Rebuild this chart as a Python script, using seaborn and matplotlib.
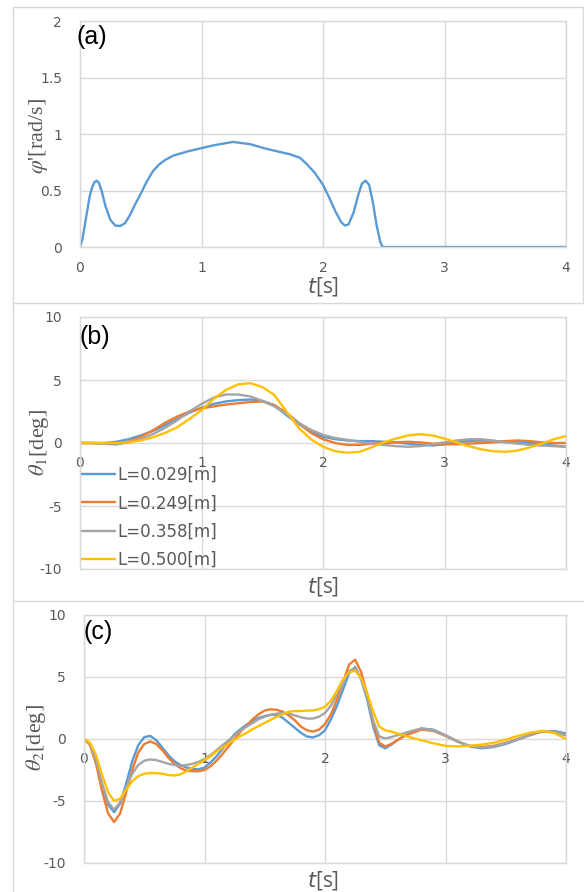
import numpy as np
import pandas as pd
import seaborn as sns
import matplotlib.pyplot as plt
from matplotlib.lines import Line2D

sns.set_theme(style='whitegrid')
plt.rcParams['font.family'] = ['DejaVu Sans']
plt.rcParams['axes.unicode_minus'] = False

# (a) phi' [rad/s]
t_a = [0, 0.02, 0.05, 0.08, 0.1, 0.12, 0.137, 0.155, 0.18, 0.21, 0.25, 0.29, 0.33,
       0.37, 0.41, 0.45, 0.49, 0.55, 0.6, 0.65, 0.7, 0.77, 0.9, 1.0, 1.1, 1.26,
       1.4, 1.53, 1.65, 1.73, 1.81, 1.86, 1.93, 2.0, 2.05, 2.1, 2.15, 2.18, 2.21,
       2.25, 2.29, 2.32, 2.35, 2.38, 2.41, 2.44, 2.47, 2.49, 3.0, 4.0]
phi_a = [0, 0.07, 0.26, 0.45, 0.53, 0.575, 0.587, 0.57, 0.49, 0.36, 0.24, 0.19, 0.186,
         0.21, 0.28, 0.37, 0.45, 0.58, 0.67, 0.73, 0.77, 0.81, 0.85, 0.875, 0.9, 0.93,
         0.91, 0.87, 0.84, 0.82, 0.79, 0.74, 0.66, 0.55, 0.44, 0.32, 0.22, 0.19, 0.2,
         0.3, 0.46, 0.56, 0.587, 0.55, 0.4, 0.2, 0.05, 0, 0, 0]

labels = ['L=0.029[m]', 'L=0.249[m]', 'L=0.358[m]', 'L=0.500[m]']
colors = ['#5B9BD5', '#ED7D31', '#A5A5A5', '#FFC000']

# (b) theta1 [deg]
t_b = [0.0, 0.1, 0.2, 0.3, 0.4, 0.5, 0.6, 0.7, 0.8, 0.9, 1.0, 1.1, 1.2, 1.3, 1.4,
       1.5, 1.6, 1.7, 1.8, 1.9, 2.0, 2.1, 2.2, 2.3, 2.4, 2.5, 2.6, 2.7, 2.8, 2.9,
       3.0, 3.1, 3.2, 3.3, 3.4, 3.5, 3.6, 3.7, 3.8, 3.9, 4.0]
th1_l029 = [0, 0, 0, 0.1, 0.3, 0.6, 0.95, 1.4, 1.9, 2.4, 2.8, 3.1, 3.3, 3.4, 3.45,
            3.35, 3.0, 2.2, 1.5, 0.9, 0.5, 0.3, 0.2, 0.15, 0.15, 0.1, 0.05, -0.05,
            -0.15, -0.2, -0.1, 0.05, 0.15, 0.2, 0.15, 0.1, 0.05, 0, -0.1, -0.2, -0.3]
th1_l249 = [0, 0, -0.05, -0.1, 0.1, 0.5, 1.0, 1.6, 2.1, 2.5, 2.75, 2.9, 3.05, 3.15,
            3.25, 3.3, 3.0, 2.4, 1.6, 0.8, 0.3, 0.0, -0.15, -0.15, -0.05, 0.0, 0.05,
            0.1, 0.05, -0.05, -0.1, -0.1, -0.05, 0.0, 0.05, 0.15, 0.2, 0.15, 0.05,
            0.0, 0.0]
th1_l358 = [0, 0, -0.05, -0.1, 0.05, 0.35, 0.7, 1.2, 1.8, 2.5, 3.1, 3.6, 3.85, 3.85,
            3.7, 3.35, 2.9, 2.3, 1.6, 1.05, 0.65, 0.4, 0.25, 0.1, -0.05, -0.15,
            -0.25, -0.3, -0.25, -0.1, 0.05, 0.2, 0.3, 0.3, 0.2, 0.05, -0.05, -0.15,
            -0.2, -0.25, -0.3]
th1_l500 = [0, 0, 0, 0, 0.05, 0.2, 0.45, 0.8, 1.25, 1.9, 2.6, 3.5, 4.2, 4.65, 4.75,
            4.45, 3.8, 2.5, 1.2, 0.3, -0.3, -0.65, -0.77, -0.7, -0.35, 0.05, 0.35,
            0.6, 0.7, 0.6, 0.35, 0.05, -0.25, -0.5, -0.65, -0.7, -0.6, -0.35, -0.05,
            0.3, 0.55]

# (c) theta2 [deg]
t_c = [0.0, 0.05, 0.1, 0.15, 0.2, 0.25, 0.3, 0.35, 0.4, 0.45, 0.5, 0.55, 0.6, 0.65,
       0.7, 0.75, 0.8, 0.85, 0.9, 0.95, 1.0, 1.05, 1.1, 1.15, 1.2, 1.25, 1.3, 1.35,
       1.4, 1.45, 1.5, 1.55, 1.6, 1.65, 1.7, 1.75, 1.8, 1.85, 1.9, 1.95, 2.0, 2.05,
       2.1, 2.15, 2.2, 2.25, 2.3, 2.35, 2.4, 2.45, 2.5, 2.55, 2.6, 2.65, 2.7, 2.8,
       2.9, 3.0, 3.1, 3.2, 3.3, 3.4, 3.5, 3.6, 3.7, 3.8, 3.9, 4.0]
th2_l029 = [0, -0.4, -1.8, -3.8, -5.3, -5.9, -5.2, -3.6, -1.8, -0.5, 0.15, 0.25, -0.1,
            -0.7, -1.3, -1.8, -2.1, -2.3, -2.4, -2.45, -2.3, -1.9, -1.4, -0.8, -0.2,
            0.4, 0.8, 1.15, 1.45, 1.7, 1.85, 1.95, 1.95, 1.7, 1.3, 0.9, 0.5, 0.2,
            0.13, 0.3, 0.7, 1.6, 2.7, 4.0, 5.3, 5.8, 4.8, 3.2, 1.0, -0.5, -0.75,
            -0.45, -0.1, 0.2, 0.45, 0.85, 0.75, 0.3, -0.2, -0.6, -0.75, -0.65, -0.4,
            -0.05, 0.3, 0.6, 0.65, 0.45]
th2_l249 = [0, -0.5, -2.0, -4.2, -6.0, -6.7, -6.0, -4.3, -2.5, -1.1, -0.4, -0.2, -0.4,
            -0.9, -1.5, -2.0, -2.35, -2.55, -2.6, -2.6, -2.5, -2.2, -1.75, -1.2, -0.6,
            0.0, 0.6, 1.1, 1.6, 2.0, 2.3, 2.4, 2.35, 2.2, 1.9, 1.5, 1.0, 0.7, 0.6,
            0.75, 1.2, 2.0, 3.2, 4.6, 6.0, 6.4, 5.4, 3.6, 1.3, -0.3, -0.6, -0.4,
            -0.1, 0.2, 0.4, 0.75, 0.65, 0.25, -0.2, -0.55, -0.65, -0.55, -0.3, 0.0,
            0.35, 0.6, 0.55, 0.3]
th2_l358 = [0, -0.4, -1.7, -3.6, -5.1, -5.7, -5.1, -3.9, -2.8, -2.1, -1.75, -1.65, -1.7,
            -1.85, -2.0, -2.1, -2.15, -2.1, -2.0, -1.85, -1.6, -1.3, -0.9, -0.5, -0.1,
            0.3, 0.7, 1.0, 1.3, 1.6, 1.8, 1.95, 2.05, 2.1, 2.05, 1.9, 1.75, 1.65,
            1.65, 1.8, 2.1, 2.7, 3.6, 4.6, 5.5, 5.7, 4.9, 3.4, 1.5, 0.2, 0.05, 0.15,
            0.3, 0.45, 0.6, 0.85, 0.7, 0.3, -0.2, -0.55, -0.7, -0.6, -0.35, 0.0, 0.35,
            0.65, 0.6, 0.3]
th2_l500 = [0, -0.3, -1.3, -2.9, -4.3, -5.0, -4.8, -4.1, -3.4, -3.0, -2.8, -2.75, -2.75,
            -2.8, -2.9, -2.95, -2.85, -2.6, -2.3, -2.0, -1.7, -1.4, -1.0, -0.7, -0.35,
            -0.05, 0.25, 0.5, 0.8, 1.05, 1.3, 1.55, 1.8, 2.0, 2.2, 2.25, 2.25, 2.3,
            2.3, 2.4, 2.6, 3.1, 3.9, 4.8, 5.4, 5.5, 4.9, 3.7, 2.2, 1.0, 0.7, 0.6,
            0.45, 0.3, 0.15, -0.1, -0.35, -0.55, -0.6, -0.55, -0.45, -0.3, -0.05,
            0.25, 0.5, 0.65, 0.5, 0.0]


def long_form(t, series):
    frames = []
    for lab, vals in zip(labels, series):
        frames.append(pd.DataFrame({'t': t, 'v': vals, 'L': lab}))
    return pd.concat(frames, ignore_index=True)


df_b = long_form(t_b, [th1_l029, th1_l249, th1_l358, th1_l500])
df_c = long_form(t_c, [th2_l029, th2_l249, th2_l358, th2_l500])

W, H = 584, 892
fig = plt.figure(figsize=(W / 100, H / 100), dpi=100)
fig.patch.set_facecolor('white')


def px_axes(x0, x1, y0, y1):
    return fig.add_axes([x0 / W, 1 - y1 / H, (x1 - x0) / W, (y1 - y0) / H])


grid_c = '#D9D9D9'
text_c = '#595959'


def style(ax, ylim, yticks):
    ax.set_xlim(0, 4)
    ax.set_ylim(*ylim)
    ax.set_xticks([0, 1, 2, 3, 4])
    ax.set_yticks(yticks)
    ax.grid(True, color=grid_c, linewidth=1.0)
    for s in ax.spines.values():
        s.set_color(grid_c)
        s.set_linewidth(1.0)
    ax.tick_params(length=0, colors=text_c, labelsize=10, pad=13)
    ax.set_xlabel('')
    ax.set_ylabel('')


ax_a = px_axes(80, 566, 21, 247)
sns.lineplot(x=t_a, y=phi_a, ax=ax_a, color=colors[0], linewidth=1.7)
style(ax_a, (0, 2), [0, 0.5, 1, 1.5, 2])
ax_a.set_yticklabels(['0', '0.5', '1', '1.5', '2'])
ax_a.tick_params(axis='x', pad=10)

ax_b = px_axes(80, 566, 317, 569)
sns.lineplot(data=df_b, x='t', y='v', hue='L', palette=colors, ax=ax_b,
             linewidth=1.7, estimator=None, sort=False)
style(ax_b, (-10, 10), [-10, -5, 0, 5, 10])

ax_c = px_axes(84, 566, 615, 863)
sns.lineplot(data=df_c, x='t', y='v', hue='L', palette=colors, ax=ax_c,
             linewidth=1.7, estimator=None, sort=False, legend=False)
style(ax_c, (-10, 10), [-10, -5, 0, 5, 10])

# x tick labels sit just under the zero line in (b) and (c)
ax_b.tick_params(axis='x', pad=-(126 - 13) * 0.72)
ax_c.tick_params(axis='x', pad=-(124 - 13) * 0.72)

leg = ax_b.legend(loc='upper left', bbox_to_anchor=(82 / W, 1 - 466 / H),
                  bbox_transform=fig.transFigure, frameon=False, fontsize=12,
                  borderpad=0, borderaxespad=0, handlelength=2.0,
                  handletextpad=0.12, labelspacing=0.62)
for txt in leg.get_texts():
    txt.set_color(text_c)
for ln in leg.get_lines():
    ln.set_linewidth(1.7)

# panel tags
for lab, x, y in [('(a)', 77, 25), ('(b)', 79, 325), ('(c)', 83, 620)]:
    fig.text(x / W, 1 - y / H, lab, ha='left', va='top', fontsize=18,
             family='Liberation Sans', color='black')

# axis titles
for y in (287, 587, 880):
    fig.text(323 / W, 1 - y / H, r'$t$[s]', ha='center', va='center',
             fontsize=15, color=text_c, family='Open Sans',
             math_fontfamily='dejavusans')

for lab, x, y in [(r"$\varphi$'[rad/s]", 39, 136),
                  (r'$\theta_1$[deg]', 39, 443),
                  (r'$\theta_2$[deg]', 36, 738)]:
    fig.text(x / W, 1 - y / H, lab, ha='center', va='center', rotation=90,
             fontsize=16, color=text_c, family='Liberation Serif',
             math_fontfamily='stix')


# chart-area borders
def hline(y, x0, x1):
    fig.add_artist(Line2D([x0 / W, x1 / W], [1 - y / H, 1 - y / H],
                          transform=fig.transFigure, color=grid_c, lw=1.0))


def vline(x, y0, y1):
    fig.add_artist(Line2D([x / W, x / W], [1 - y0 / H, 1 - y1 / H],
                          transform=fig.transFigure, color=grid_c, lw=1.0))


hline(7, 13, 583)
hline(303, 13, 584)
hline(601, 13, 584)
vline(13, 7, 892)
vline(583, 7, 303)

fig.savefig('out.png', dpi=100)
